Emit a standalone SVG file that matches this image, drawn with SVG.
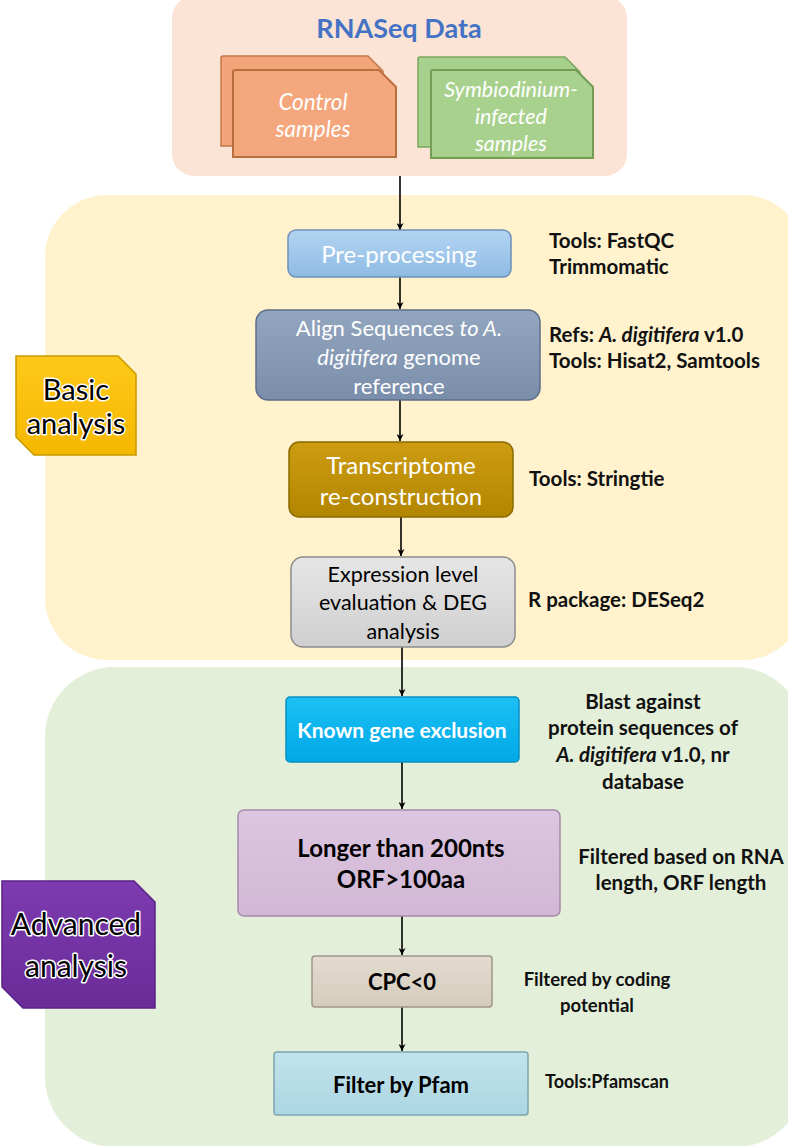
<svg xmlns="http://www.w3.org/2000/svg" width="788" height="1146" viewBox="0 0 788 1146">
<defs>
<style>
.t{font-family:Lato,"Open Sans","Liberation Sans",sans-serif}
.w{fill:#fff}
.k{fill:#000}
.b{font-weight:bold}
.side{font-family:Lato,"Open Sans","Liberation Sans",sans-serif;font-weight:bold;font-size:20.5px;fill:#111}
.lab{font-family:Lato,"Open Sans","Liberation Sans",sans-serif;fill:#000;stroke:#fff;stroke-width:3px;paint-order:stroke;stroke-linejoin:round}
.conn{stroke:#000;stroke-width:1.6;fill:none;marker-end:url(#ah)}
</style>
<marker id="ah" viewBox="0 0 10 10" refX="10" refY="5" markerWidth="7" markerHeight="7" markerUnits="userSpaceOnUse" orient="auto">
<path d="M0,0 L10,5 L0,10 L3,5 Z" fill="#000"/>
</marker>
<linearGradient id="gPre" x1="0" y1="0" x2="0" y2="1"><stop offset="0" stop-color="#b3d4f2"/><stop offset="1" stop-color="#8fbbe4"/></linearGradient>
<linearGradient id="gAli" x1="0" y1="0" x2="0" y2="1"><stop offset="0" stop-color="#93a6bf"/><stop offset="1" stop-color="#7a8eab"/></linearGradient>
<linearGradient id="gTra" x1="0" y1="0" x2="0" y2="1"><stop offset="0" stop-color="#cc9c12"/><stop offset="1" stop-color="#b38600"/></linearGradient>
<linearGradient id="gExp" x1="0" y1="0" x2="0" y2="1"><stop offset="0" stop-color="#e6e6e6"/><stop offset="1" stop-color="#cfcfcf"/></linearGradient>
<linearGradient id="gKno" x1="0" y1="0" x2="0" y2="1"><stop offset="0" stop-color="#1cc0f5"/><stop offset="1" stop-color="#00a8e6"/></linearGradient>
<linearGradient id="gLon" x1="0" y1="0" x2="0" y2="1"><stop offset="0" stop-color="#dcc6e0"/><stop offset="1" stop-color="#d2b8d6"/></linearGradient>
<linearGradient id="gCpc" x1="0" y1="0" x2="0" y2="1"><stop offset="0" stop-color="#e2dbcf"/><stop offset="1" stop-color="#d5ccbc"/></linearGradient>
<linearGradient id="gPfa" x1="0" y1="0" x2="0" y2="1"><stop offset="0" stop-color="#c2e3ec"/><stop offset="1" stop-color="#abd6e2"/></linearGradient>
<linearGradient id="gBas" x1="0" y1="0" x2="0" y2="1"><stop offset="0" stop-color="#ffc81a"/><stop offset="1" stop-color="#f5b800"/></linearGradient>
<linearGradient id="gAdv" x1="0" y1="0" x2="0" y2="1"><stop offset="0" stop-color="#7c3bb0"/><stop offset="1" stop-color="#6a2c98"/></linearGradient>
</defs>
<rect width="788" height="1146" fill="#fff"/>

<g id="panels">
<rect id="panel-rnaseq" x="172" y="-4" width="455" height="180" rx="22" fill="#fbe4d6"/>
<rect id="panel-basic" x="45" y="195" width="760" height="465" rx="62" fill="#fff2cd"/>
<rect id="panel-advanced" x="45" y="667" width="760" height="480" rx="70" fill="#e3efd9"/>
</g>

<g id="title">
<text class="t b" x="399" y="38" font-size="27" fill="#4472c4" text-anchor="middle">RNASeq Data</text>
</g>

<g id="control-samples">
<path d="M221,58 Q221,56 223,56 H368 L383,71 V146 H221 Z" fill="#f3a47b" stroke="#c4774a" stroke-width="1.5"/>
<path d="M233,72 Q233,70 235,70 H379 L396,87 V157 H233 Z" fill="#f4a67c" stroke="#b9703f" stroke-width="2"/>
<text class="t w" font-style="italic" font-size="22.5" text-anchor="middle"><tspan x="313" y="110">Control</tspan><tspan x="313" y="137">samples</tspan></text>
</g>

<g id="infected-samples">
<path d="M418,59 Q418,57 420,57 H565 L580,72 V147 H418 Z" fill="#a8d08d" stroke="#7ca55c" stroke-width="1.5"/>
<path d="M431,72 Q431,70 433,70 H576 L593,87 V158 H431 Z" fill="#a9d18e" stroke="#739c54" stroke-width="2"/>
<text class="t w" font-style="italic" font-size="21.5" text-anchor="middle"><tspan x="511" y="97">Symbiodinium-</tspan><tspan x="511" y="124">infected</tspan><tspan x="511" y="151">samples</tspan></text>
</g>

<g id="connectors">
<line class="conn" x1="400" y1="176" x2="400" y2="230"/>
<line class="conn" x1="400" y1="277" x2="400" y2="309"/>
<line class="conn" x1="400" y1="400" x2="400" y2="441"/>
<line class="conn" x1="401" y1="517" x2="401" y2="556"/>
<line class="conn" x1="402" y1="647" x2="402" y2="696"/>
<line class="conn" x1="402" y1="762" x2="402" y2="809"/>
<line class="conn" x1="402" y1="916" x2="402" y2="955"/>
<line class="conn" x1="402" y1="1007" x2="402" y2="1051"/>
</g>

<g id="basic-label">
<path d="M16,356 H118 L136,374 V455 H34 L16,437 Z" fill="url(#gBas)" stroke="#c99a00" stroke-width="1.5"/>
<text class="lab" font-size="29" text-anchor="middle"><tspan x="76" y="400">Basic</tspan><tspan x="76" y="434">analysis</tspan></text>
</g>

<g id="advanced-label">
<path d="M2,881 H134 L155,902 V1008 H23 L2,987 Z" fill="url(#gAdv)" stroke="#5a2285" stroke-width="1.5"/>
<text class="lab" font-size="30" text-anchor="middle"><tspan x="76" y="935">Advanced</tspan><tspan x="76" y="977">analysis</tspan></text>
</g>

<g id="pre-processing">
<rect x="288" y="230" width="223" height="47" rx="8" fill="url(#gPre)" stroke="#6d90b8" stroke-width="1.5"/>
<text class="t w" x="399" y="263" font-size="24" text-anchor="middle">Pre-processing</text>
</g>

<g id="align">
<rect x="256" y="310" width="284" height="90" rx="12" fill="url(#gAli)" stroke="#5d6e88" stroke-width="1.5"/>
<text class="t w" font-size="22" text-anchor="middle"><tspan x="399" y="336">Align Sequences <tspan font-style="italic">to A.</tspan></tspan><tspan x="399" y="365"><tspan font-style="italic">digitifera</tspan>  genome</tspan><tspan x="399" y="394">reference</tspan></text>
</g>

<g id="transcriptome">
<rect x="289" y="442" width="224" height="75" rx="10" fill="url(#gTra)" stroke="#8a6a00" stroke-width="1.5"/>
<text class="t w" font-size="24" text-anchor="middle"><tspan x="401" y="474">Transcriptome</tspan><tspan x="401" y="505">re-construction</tspan></text>
</g>

<g id="expression">
<rect x="291" y="557" width="224" height="90" rx="12" fill="url(#gExp)" stroke="#8c8c8c" stroke-width="1.5"/>
<text class="t k" font-size="21.5" text-anchor="middle"><tspan x="403" y="582">Expression level</tspan><tspan x="403" y="610">evaluation &amp; DEG</tspan><tspan x="403" y="639">analysis</tspan></text>
</g>

<g id="known-gene">
<rect x="286" y="697" width="233" height="65" rx="4" fill="url(#gKno)" stroke="#0a8fc2" stroke-width="1.5"/>
<text class="t w b" x="402" y="738" font-size="21" text-anchor="middle">Known gene exclusion</text>
</g>

<g id="longer">
<rect x="238" y="810" width="322" height="106" rx="6" fill="url(#gLon)" stroke="#a58aa9" stroke-width="1.5"/>
<text class="t k b" font-size="24" text-anchor="middle"><tspan x="401" y="857">Longer than 200nts</tspan><tspan x="401" y="888">ORF&gt;100aa</tspan></text>
</g>

<g id="cpc">
<rect x="312" y="956" width="180" height="51" rx="3" fill="url(#gCpc)" stroke="#9e9686" stroke-width="1.5"/>
<text class="t k b" x="402" y="990" font-size="22" text-anchor="middle">CPC&lt;0</text>
</g>

<g id="pfam">
<rect x="274" y="1052" width="254" height="63" rx="3" fill="url(#gPfa)" stroke="#7ea5b0" stroke-width="1.5"/>
<text class="t k b" x="401" y="1093" font-size="22" text-anchor="middle">Filter by Pfam</text>
</g>

<g id="annotations">
<text class="side"><tspan x="549" y="248">Tools: FastQC</tspan><tspan x="549" y="274">Trimmomatic</tspan></text>
<text class="side"><tspan x="549" y="342">Refs: <tspan font-style="italic">A. digitifera</tspan> v1.0</tspan><tspan x="549" y="368">Tools: Hisat2, Samtools</tspan></text>
<text class="side" x="529" y="486">Tools: Stringtie</text>
<text class="side" x="528" y="607">R package: DESeq2</text>
<text class="side" text-anchor="middle"><tspan x="643" y="709">Blast against</tspan><tspan x="643" y="735">protein sequences of</tspan><tspan x="643" y="762"><tspan font-style="italic">A. digitifera</tspan> v1.0, nr</tspan><tspan x="643" y="789">database</tspan></text>
<text class="side" text-anchor="middle"><tspan x="681" y="864">Filtered based on RNA</tspan><tspan x="681" y="890">length, ORF length</tspan></text>
<text class="side" font-size="18.5" text-anchor="middle" style="font-size:18.5px"><tspan x="597" y="986">Filtered by coding</tspan><tspan x="597" y="1012">potential</tspan></text>
<text class="side" x="545" y="1088" style="font-size:18px">Tools:Pfamscan</text>
</g>
</svg>
